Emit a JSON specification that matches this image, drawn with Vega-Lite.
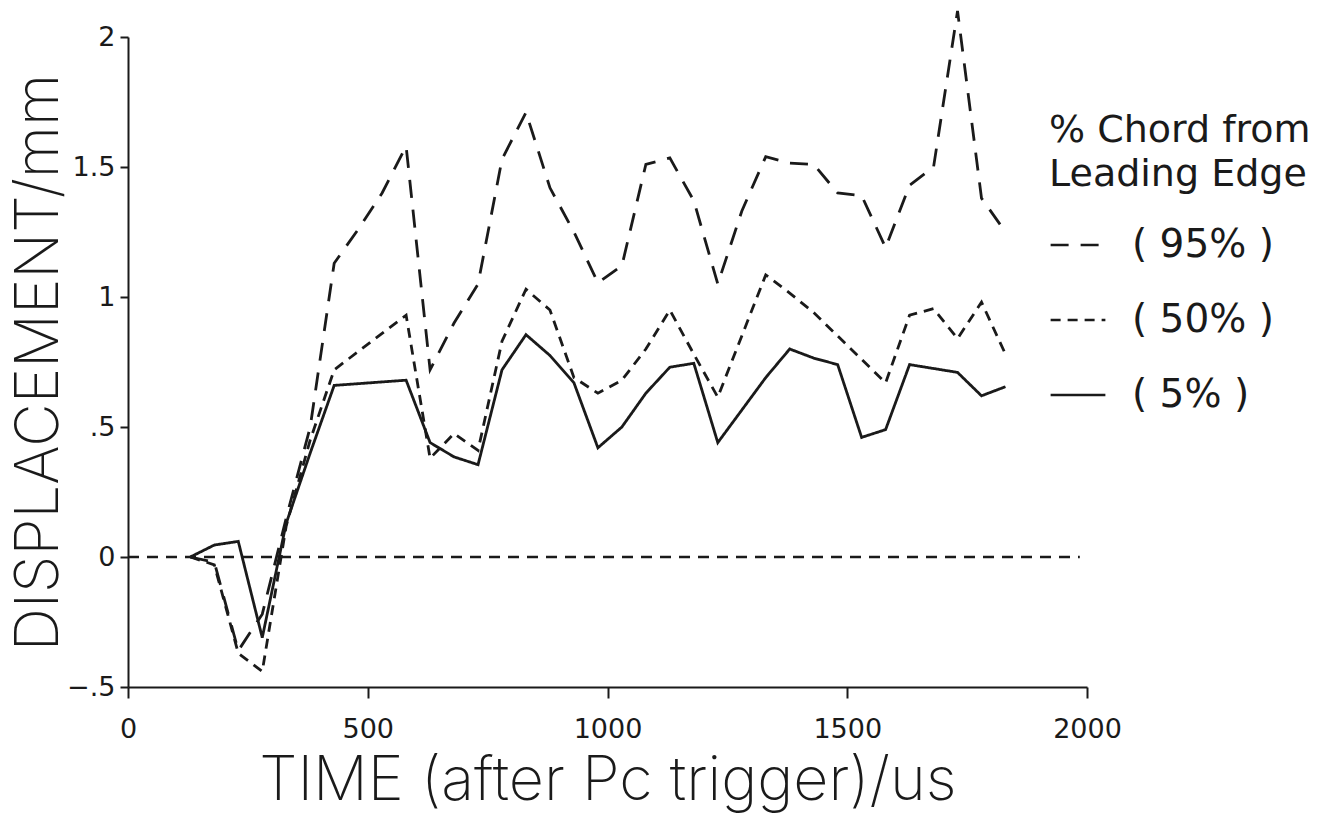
{
  "$schema": "https://vega.github.io/schema/vega-lite/v6.json",
  "width": 959,
  "height": 650,
  "autosize": {"type": "none"},
  "padding": {"left": 128, "top": 37, "right": 249, "bottom": 127},
  "background": "white",
  "config": {
    "view": {"stroke": null},
    "font": "DejaVu Sans",
    "axis": {
      "domainColor": "#1a1a1a",
      "domainWidth": 2,
      "tickColor": "#1a1a1a",
      "tickWidth": 2,
      "grid": false,
      "labelColor": "#1a1a1a",
      "labelFont": "DejaVu Sans",
      "labelFontSize": 27,
      "titleColor": "#1a1a1a",
      "titleFont": "Inter",
      "titleFontWeight": 200
    }
  },
  "datasets": {
    "zero": [{"t": 0, "t2": 1985, "v": 0}],
    "series": [
      {"s": "5", "t": 130, "v": 0},
      {"s": "5", "t": 180, "v": 0.046},
      {"s": "5", "t": 230, "v": 0.06},
      {"s": "5", "t": 280, "v": -0.31},
      {"s": "5", "t": 330, "v": 0.13},
      {"s": "5", "t": 380, "v": 0.40},
      {"s": "5", "t": 430, "v": 0.66},
      {"s": "5", "t": 580, "v": 0.68},
      {"s": "5", "t": 630, "v": 0.44},
      {"s": "5", "t": 680, "v": 0.385},
      {"s": "5", "t": 730, "v": 0.355},
      {"s": "5", "t": 780, "v": 0.72},
      {"s": "5", "t": 830, "v": 0.855},
      {"s": "5", "t": 880, "v": 0.775},
      {"s": "5", "t": 930, "v": 0.67},
      {"s": "5", "t": 980, "v": 0.42},
      {"s": "5", "t": 1030, "v": 0.50},
      {"s": "5", "t": 1080, "v": 0.63},
      {"s": "5", "t": 1130, "v": 0.73},
      {"s": "5", "t": 1180, "v": 0.745},
      {"s": "5", "t": 1230, "v": 0.44},
      {"s": "5", "t": 1330, "v": 0.69},
      {"s": "5", "t": 1380, "v": 0.80},
      {"s": "5", "t": 1430, "v": 0.765},
      {"s": "5", "t": 1480, "v": 0.74},
      {"s": "5", "t": 1530, "v": 0.46},
      {"s": "5", "t": 1580, "v": 0.49},
      {"s": "5", "t": 1630, "v": 0.74},
      {"s": "5", "t": 1730, "v": 0.71},
      {"s": "5", "t": 1780, "v": 0.62},
      {"s": "5", "t": 1830, "v": 0.655},
      {"s": "50", "t": 130, "v": 0},
      {"s": "50", "t": 180, "v": -0.03},
      {"s": "50", "t": 230, "v": -0.37},
      {"s": "50", "t": 280, "v": -0.44},
      {"s": "50", "t": 330, "v": 0.12},
      {"s": "50", "t": 380, "v": 0.45},
      {"s": "50", "t": 430, "v": 0.72},
      {"s": "50", "t": 580, "v": 0.93},
      {"s": "50", "t": 630, "v": 0.38},
      {"s": "50", "t": 680, "v": 0.475},
      {"s": "50", "t": 730, "v": 0.41},
      {"s": "50", "t": 780, "v": 0.83},
      {"s": "50", "t": 830, "v": 1.03},
      {"s": "50", "t": 880, "v": 0.95},
      {"s": "50", "t": 930, "v": 0.69},
      {"s": "50", "t": 980, "v": 0.63},
      {"s": "50", "t": 1030, "v": 0.68},
      {"s": "50", "t": 1080, "v": 0.80},
      {"s": "50", "t": 1130, "v": 0.95},
      {"s": "50", "t": 1180, "v": 0.78},
      {"s": "50", "t": 1230, "v": 0.615},
      {"s": "50", "t": 1330, "v": 1.085},
      {"s": "50", "t": 1380, "v": 1.015},
      {"s": "50", "t": 1430, "v": 0.94},
      {"s": "50", "t": 1480, "v": 0.85},
      {"s": "50", "t": 1530, "v": 0.76},
      {"s": "50", "t": 1580, "v": 0.67},
      {"s": "50", "t": 1630, "v": 0.93},
      {"s": "50", "t": 1680, "v": 0.955},
      {"s": "50", "t": 1730, "v": 0.84},
      {"s": "50", "t": 1780, "v": 0.98},
      {"s": "50", "t": 1830, "v": 0.78},
      {"s": "95", "t": 130, "v": 0},
      {"s": "95", "t": 180, "v": -0.02},
      {"s": "95", "t": 230, "v": -0.36},
      {"s": "95", "t": 280, "v": -0.22},
      {"s": "95", "t": 330, "v": 0.15},
      {"s": "95", "t": 380, "v": 0.50},
      {"s": "95", "t": 430, "v": 1.13},
      {"s": "95", "t": 480, "v": 1.26},
      {"s": "95", "t": 530, "v": 1.40},
      {"s": "95", "t": 580, "v": 1.58},
      {"s": "95", "t": 630, "v": 0.72},
      {"s": "95", "t": 680, "v": 0.90},
      {"s": "95", "t": 730, "v": 1.05},
      {"s": "95", "t": 780, "v": 1.53},
      {"s": "95", "t": 830, "v": 1.71},
      {"s": "95", "t": 880, "v": 1.42},
      {"s": "95", "t": 930, "v": 1.25},
      {"s": "95", "t": 980, "v": 1.055},
      {"s": "95", "t": 1030, "v": 1.12},
      {"s": "95", "t": 1080, "v": 1.51},
      {"s": "95", "t": 1130, "v": 1.535},
      {"s": "95", "t": 1180, "v": 1.37},
      {"s": "95", "t": 1230, "v": 1.05},
      {"s": "95", "t": 1280, "v": 1.33},
      {"s": "95", "t": 1330, "v": 1.54},
      {"s": "95", "t": 1380, "v": 1.515},
      {"s": "95", "t": 1430, "v": 1.51},
      {"s": "95", "t": 1480, "v": 1.40},
      {"s": "95", "t": 1530, "v": 1.39},
      {"s": "95", "t": 1580, "v": 1.19},
      {"s": "95", "t": 1630, "v": 1.43},
      {"s": "95", "t": 1680, "v": 1.50},
      {"s": "95", "t": 1730, "v": 2.10},
      {"s": "95", "t": 1780, "v": 1.38},
      {"s": "95", "t": 1830, "v": 1.25}
    ]
  },
  "layer": [
    {
      "data": {"name": "series"},
      "mark": {"type": "line", "strokeWidth": 2.8, "color": "#1a1a1a", "clip": false},
      "encoding": {
        "x": {
          "field": "t", "type": "quantitative",
          "scale": {"domain": [0, 2000], "nice": false},
          "title": "TIME (after Pc trigger)/us",
          "axis": {"values": [0, 500, 1000, 1500, 2000], "tickSize": 11, "labelPadding": 18, "titlePadding": 9, "titleFontSize": 61, "format": "d", "labelFlush": false, "labelFontSize": 27}
        },
        "y": {
          "field": "v", "type": "quantitative",
          "scale": {"domain": [-0.5, 2], "nice": false},
          "title": "DISPLACEMENT/mm",
          "axis": {
            "values": [-0.5, 0, 0.5, 1, 1.5, 2],
            "tickSize": 8, "labelPadding": 5, "titlePadding": -4, "titleFontSize": 60, "labelFontSize": 27,
            "labelExpr": "datum.value == 0.5 ? '.5' : datum.value == -0.5 ? '\u2212.5' : datum.value == 1.5 ? '1.5' : format(datum.value, 'd')"
          }
        },
        "strokeDash": {
          "field": "s", "type": "nominal",
          "scale": {"domain": ["95", "50", "5"], "range": [[18, 12], [10, 7], [1, 0]]},
          "legend": {
            "title": ["% Chord from", "Leading Edge"],
            "orient": "none",
            "legendX": 921,
            "legendY": 75,
            "titleFont": "DejaVu Sans",
            "titleFontSize": 38,
            "titleFontWeight": "normal",
            "titleLineHeight": 44,
            "titleLimit": 500,
            "titleColor": "#1a1a1a",
            "titlePadding": 22,
            "labelFont": "DejaVu Sans",
            "labelFontSize": 39,
            "labelColor": "#1a1a1a",
            "labelOffset": 25,
            "labelExpr": "'( ' + datum.label + '% )'",
            "labelLimit": 400,
            "symbolType": "stroke",
            "symbolSize": 3000,
            "symbolStrokeWidth": 2.6,
            "symbolStrokeColor": "#1a1a1a",
            "rowPadding": 26
          }
        }
      }
    },
    {
      "data": {"name": "zero"},
      "mark": {"type": "rule", "strokeDash": [11, 8], "strokeWidth": 2.5, "color": "#1a1a1a"},
      "encoding": {
        "x": {
          "field": "t", "type": "quantitative",
          "scale": {"domain": [0, 2000], "nice": false},
          "title": "TIME (after Pc trigger)/us",
          "axis": {"values": [0, 500, 1000, 1500, 2000], "tickSize": 11, "labelPadding": 18, "titlePadding": 9, "titleFontSize": 61, "format": "d", "labelFlush": false, "labelFontSize": 27}
        },
        "x2": {"field": "t2"},
        "y": {
          "field": "v", "type": "quantitative",
          "scale": {"domain": [-0.5, 2], "nice": false},
          "title": "DISPLACEMENT/mm",
          "axis": {
            "values": [-0.5, 0, 0.5, 1, 1.5, 2],
            "tickSize": 8, "labelPadding": 5, "titlePadding": -4, "titleFontSize": 60, "labelFontSize": 27,
            "labelExpr": "datum.value == 0.5 ? '.5' : datum.value == -0.5 ? '\u2212.5' : datum.value == 1.5 ? '1.5' : format(datum.value, 'd')"
          }
        }
      }
    }
  ]
}
